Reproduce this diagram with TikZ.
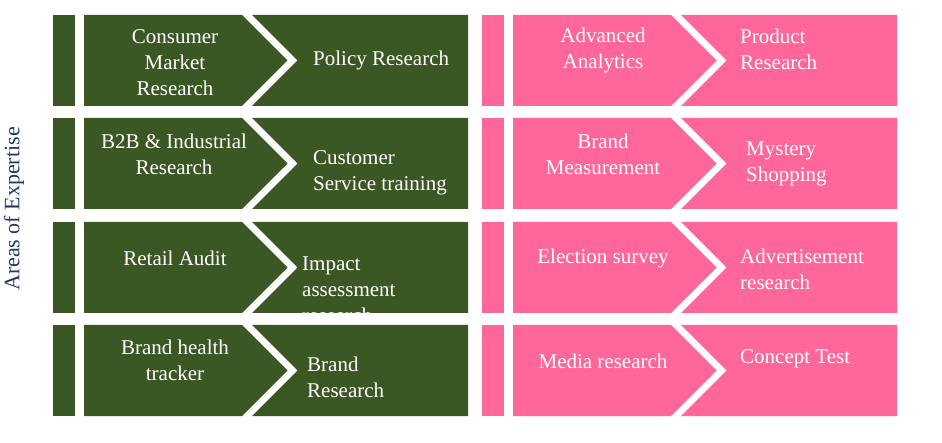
\documentclass[tikz,border=0pt]{standalone}
\usepackage{fontspec}
\setmainfont{Liberation Serif}

\definecolor{areagreen}{RGB}{59,88,36}
\definecolor{areapink}{RGB}{255,102,153}
\definecolor{areanavy}{RGB}{31,56,100}

\tikzset{%
  % Specifications for style of texts:
      boxtext/.style = {text=white, font=\fontsize{21}{26}\selectfont, align=center, inner sep=0pt},
     sidetext/.style = {boxtext, align=left, anchor=west},
}

\begin{document}
\begin{tikzpicture}[x=1pt, y=-1pt]
    \useasboundingbox (0,0) rectangle (942,443);

    % Draw strips and chevrons
    \foreach \col/\dx in {areagreen/0, areapink/429}{
      \foreach \top in {15,118,222,325}{
        \begin{scope}[shift={(\dx,0)}]
          \fill[\col] (53,\top) rectangle (75,\top+91);
          \fill[\col] (84,\top) -- (242,\top) -- (287.5,\top+45.5) -- (242,\top+91) -- (84,\top+91) -- cycle;
          \fill[\col] (252,\top) -- (468,\top) -- (468,\top+91) -- (252,\top+91) -- (297.5,\top+45.5) -- cycle;
        \end{scope}
      }
    }

    % Side label
    \node (areas) [rotate=90, text=areanavy, font=\fontsize{22}{26}\selectfont] at (14,209) {Areas of Expertise};

    % Green texts
    \node (consumer)  [boxtext]  at (175,63)    {Consumer\\Market\\Research};
    \node (btob)      [boxtext]  at (174,154)   {B2B \& Industrial\\Research};
    \node (retail)    [boxtext]  at (175,258)   {Retail Audit};
    \node (health)    [boxtext]  at (175,360.5) {Brand health\\tracker};

    \node (policy)    [sidetext] at (313,60)    {Policy Research};
    \node (customer)  [sidetext] at (313,173)   {Customer\\Service training};
    \begin{scope}
      \clip (252,222) -- (468,222) -- (468,313) -- (252,313) -- (297.5,267.5) -- cycle;
      \node (impact)  [sidetext] at (302,290)   {Impact\\assessment\\research};
    \end{scope}
    \node (brand)     [sidetext] at (307,377)   {Brand\\Research};

    % Pink texts
    \node (advanced)  [boxtext]  at (603,50.5)  {Advanced\\Analytics};
    \node (measure)   [boxtext]  at (603,154)   {Brand\\Measurement};
    \node (election)  [boxtext]  at (603,258)   {Election survey};
    \node (media)     [boxtext]  at (603,361)   {Media research};

    \node (product)   [sidetext] at (740,49.5)  {Product\\Research};
    \node (mystery)   [sidetext] at (746,164)   {Mystery\\Shopping};
    \node (advert)    [sidetext] at (740,269.5) {Advertisement\\research};
    \node (concept)   [sidetext] at (740,359)   {Concept Test};
\end{tikzpicture}
\end{document}
